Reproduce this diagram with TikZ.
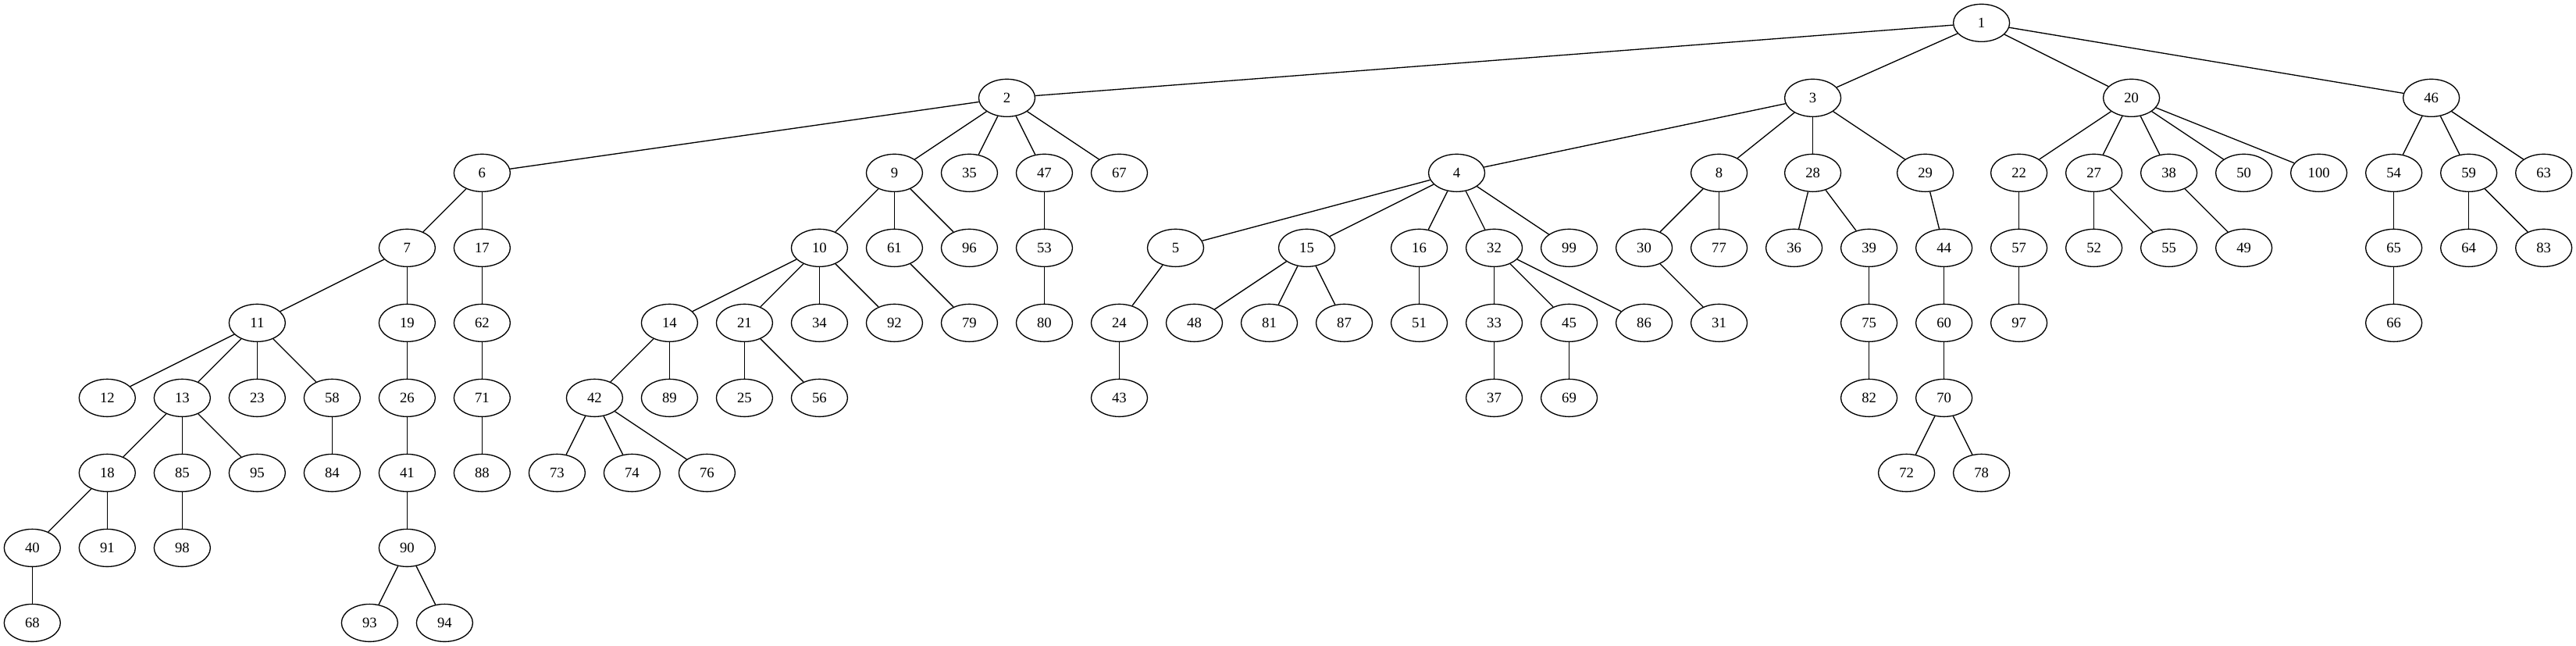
\documentclass[tikz,border=0pt]{standalone}
\usepackage{fontspec}
\setmainfont{Liberation Serif}
\usetikzlibrary{shapes.geometric}
\begin{document}
\begin{tikzpicture}[x=1pt,y=1pt,
  vtx/.style={draw=black,line width=1pt,ellipse,minimum width=54pt,minimum height=36pt,inner sep=0pt,font=\fontsize{14}{16}\selectfont},
  edge/.style={draw=black,line width=1pt}]
\useasboundingbox[fill=white] (0,0) rectangle (2474,620);
\foreach \n/\x/\r in {
  1/1903/0,
  2/967/1, 3/1741/1, 20/2047/1, 46/2335/1,
  6/463/2, 9/859/2, 35/931/2, 47/1003/2, 67/1075/2, 4/1399/2, 8/1651/2, 28/1741/2, 29/1849/2, 22/1939/2, 27/2011/2, 38/2083/2, 50/2155/2, 100/2227/2, 54/2299/2, 59/2371/2, 63/2443/2,
  7/391/3, 17/463/3, 10/787/3, 61/859/3, 96/931/3, 53/1003/3, 5/1129/3, 15/1255/3, 16/1363/3, 32/1435/3, 99/1507/3, 30/1579/3, 77/1651/3, 36/1723/3, 39/1795/3, 44/1867/3, 57/1939/3, 52/2011/3, 55/2083/3, 49/2155/3, 65/2299/3, 64/2371/3, 83/2443/3,
  11/247/4, 19/391/4, 62/463/4, 14/643/4, 21/715/4, 34/787/4, 92/859/4, 79/931/4, 80/1003/4, 24/1075/4, 48/1147/4, 81/1219/4, 87/1291/4, 51/1363/4, 33/1435/4, 45/1507/4, 86/1579/4, 31/1651/4, 75/1795/4, 60/1867/4, 97/1939/4, 66/2299/4,
  12/103/5, 13/175/5, 23/247/5, 58/319/5, 26/391/5, 71/463/5, 42/571/5, 89/643/5, 25/715/5, 56/787/5, 43/1075/5, 37/1435/5, 69/1507/5, 82/1795/5, 70/1867/5,
  18/103/6, 85/175/6, 95/247/6, 84/319/6, 41/391/6, 88/463/6, 73/535/6, 74/607/6, 76/679/6, 72/1831/6, 78/1903/6,
  40/31/7, 91/103/7, 98/175/7, 90/391/7,
  68/31/8, 93/355/8, 94/427/8}
  \node[vtx] (n\n) at (\x,{598-72*\r}) {\n};
\foreach \a/\b in {
  1/2, 1/3, 1/20, 1/46,
  2/6, 2/9, 2/35, 2/47, 2/67,
  3/4, 3/8, 3/28, 3/29,
  20/22, 20/27, 20/38, 20/50, 20/100,
  46/54, 46/59, 46/63,
  6/7, 6/17,
  9/10, 9/61, 9/96,
  47/53,
  4/5, 4/15, 4/16, 4/32, 4/99,
  8/30, 8/77,
  28/36, 28/39,
  29/44,
  22/57,
  27/52, 27/55,
  38/49,
  54/65,
  59/64, 59/83,
  7/11, 7/19,
  17/62,
  10/14, 10/21, 10/34, 10/92,
  61/79,
  53/80,
  5/24,
  15/48, 15/81, 15/87,
  16/51,
  32/33, 32/45, 32/86,
  30/31,
  39/75,
  44/60,
  57/97,
  65/66,
  11/12, 11/13, 11/23, 11/58,
  19/26,
  62/71,
  14/42, 14/89,
  21/25, 21/56,
  24/43,
  33/37,
  45/69,
  75/82,
  60/70,
  13/18, 13/85, 13/95,
  58/84,
  26/41,
  71/88,
  42/73, 42/74, 42/76,
  70/72, 70/78,
  18/40, 18/91,
  85/98,
  41/90,
  90/93, 90/94,
  40/68}
  \draw[edge] (n\a) -- (n\b);
\end{tikzpicture}
\end{document}
